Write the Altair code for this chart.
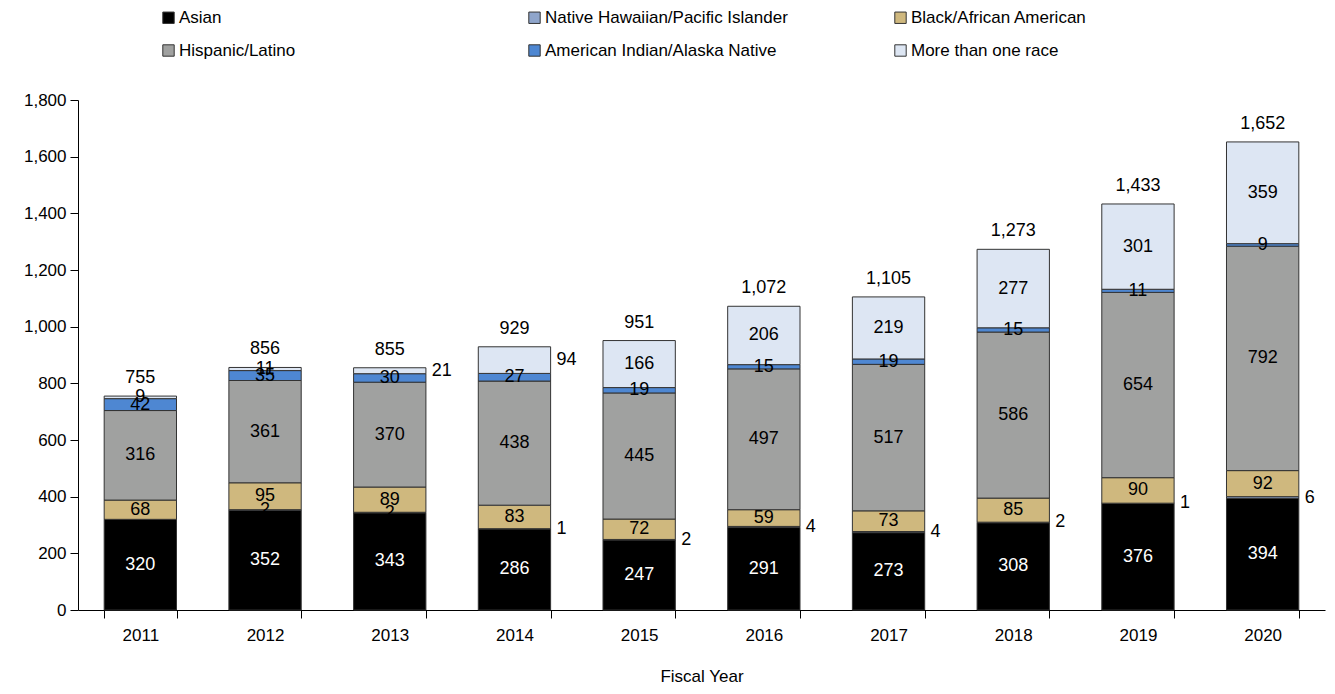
import altair as alt
import pandas as pd

years = ["2011", "2012", "2013", "2014", "2015", "2016", "2017", "2018", "2019", "2020"]
categories = [
    "Asian",
    "Native Hawaiian/Pacific Islander",
    "Black/African American",
    "Hispanic/Latino",
    "American Indian/Alaska Native",
    "More than one race",
]
asian = [320, 352, 343, 286, 247, 291, 273, 308, 376, 394]
nhpi = [0, 2, 2, 1, 2, 4, 4, 2, 1, 6]
black = [68, 95, 89, 83, 72, 59, 73, 85, 90, 92]
hispanic = [316, 361, 370, 438, 445, 497, 517, 586, 654, 792]
aian = [42, 35, 30, 27, 19, 15, 19, 15, 11, 9]
multi = [9, 11, 21, 94, 166, 206, 219, 277, 301, 359]
totals = [755, 856, 855, 929, 951, 1072, 1105, 1273, 1433, 1652]
colors = ["#000000", "#8FA5CB", "#CFB87E", "#A0A1A0", "#4E87D2", "#DDE6F3"]

series = [asian, nhpi, black, hispanic, aian, multi]
rows = []
for ci, (cat, vals) in enumerate(zip(categories, series)):
    for y, v in zip(years, vals):
        rows.append({"year": y, "category": cat, "value": v, "order": ci})
df = pd.DataFrame(rows)
tot_df = pd.DataFrame({"year": years, "total": totals})

FONT = "Liberation Sans"

xenc = alt.X(
    "year:N",
    title="Fiscal Year",
    scale=alt.Scale(paddingInner=0.42, paddingOuter=0.21),
    axis=alt.Axis(labelAngle=0, tickBand="extent", labelPadding=9, titlePadding=25),
)
yscale = alt.Scale(domain=[0, 1800])

bars = alt.Chart(df).mark_bar(stroke="#333333", strokeWidth=1).encode(
    x=xenc,
    y=alt.Y(
        "value:Q",
        stack="zero",
        scale=yscale,
        title=None,
        axis=alt.Axis(values=list(range(0, 1801, 200)), format=",d", grid=False, labelPadding=4),
    ),
    color=alt.Color(
        "category:N",
        scale=alt.Scale(domain=categories, range=colors),
        legend=alt.Legend(
            title=None,
            orient="none",
            direction="horizontal",
            legendX=82,
            legendY=-91,
            columns=3,
            gridAlign="all",
            columnPadding=104,
            rowPadding=15,
            symbolType="square",
            symbolSize=130,
            symbolStrokeColor="#333333",
            symbolStrokeWidth=1,
            labelFontSize=17,
            labelFont=FONT,
            labelColor="black",
            labelOffset=2,
            labelLimit=400,
        ),
    ),
    order=alt.Order("order:Q"),
)

stacked = (
    alt.Chart(df)
    .transform_stack(stack="value", groupby=["year"], sort=[alt.SortField("order")], as_=["y0", "y1"])
    .transform_calculate(mid="(datum.y0 + datum.y1) / 2")
    .transform_filter("datum.value > 0")
)
outside_expr = (
    "(datum.category == 'Native Hawaiian/Pacific Islander' && toNumber(datum.year) >= 2014)"
    " || (datum.category == 'More than one race' && (datum.year == '2013' || datum.year == '2014'))"
)

inside_labels = stacked.transform_filter("!(" + outside_expr + ")").mark_text(
    fontSize=18, font=FONT, baseline="middle", align="center"
).encode(
    x=alt.X("year:N"),
    y=alt.Y("mid:Q", scale=yscale),
    text=alt.Text("value:Q"),
    color=alt.condition(alt.datum.category == "Asian", alt.value("white"), alt.value("black")),
)

outside_labels = stacked.transform_filter(outside_expr).mark_text(
    fontSize=18, font=FONT, baseline="middle", align="left", dx=42, color="black"
).encode(
    x=alt.X("year:N"),
    y=alt.Y("mid:Q", scale=yscale),
    text=alt.Text("value:Q"),
)

total_labels = alt.Chart(tot_df).mark_text(
    fontSize=18, font=FONT, baseline="bottom", align="center", dy=-9, color="black"
).encode(
    x=alt.X("year:N"),
    y=alt.Y("total:Q", scale=yscale),
    text=alt.Text("total:Q", format=","),
)

chart = (
    alt.layer(bars, inside_labels, outside_labels, total_labels)
    .properties(
        width=1247,
        height=510,
        autosize=alt.AutoSizeParams(type="none"),
        padding={"left": 70, "top": 92, "right": 2, "bottom": 76},
        background="white",
    )
    .configure_view(stroke=None)
    .configure_axis(
        labelFont=FONT,
        labelFontSize=17,
        labelColor="black",
        titleFont=FONT,
        titleFontSize=17,
        titleFontWeight="normal",
        titleColor="black",
        domainColor="black",
        tickColor="black",
        tickSize=8,
        domainWidth=1,
        tickWidth=1,
    )
)

chart.save("out.html", embed_options={"renderer": "svg", "actions": False})
